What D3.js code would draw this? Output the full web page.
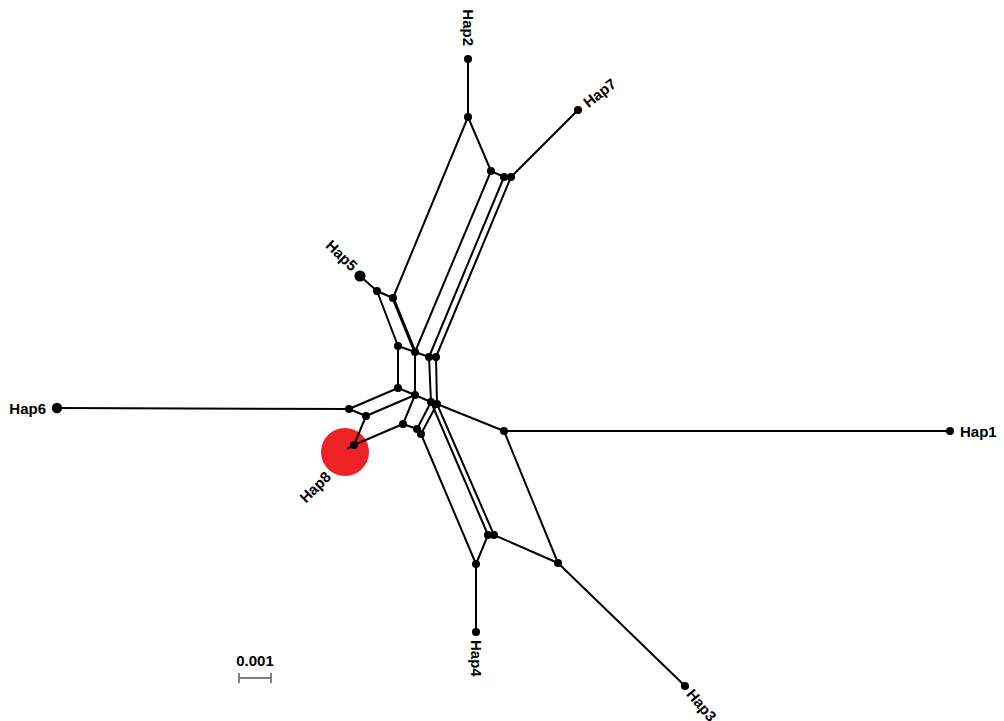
<!DOCTYPE html>
<html>
<head>
<meta charset="utf-8">
<script src="https://cdn.jsdelivr.net/npm/d3@7"></script>
<style>
  html, body { margin: 0; padding: 0; background: #fff; }
  svg { display: block; }
</style>
</head>
<body>
<svg id="chart" width="1004" height="721"></svg>
<script>
// Split-network layout: node ids and layout coordinates
const nodeIds = ["Hap2","N","O","P1","P2","Hap7","Hap5","A","B","C","D","E1","E2","F","G","H1","H2","I","J","K","L1","L2","Hap8","Hap6","M","Hap1","Q1","Q2","R","S","Hap4","Hap3"];
const nodeX =   [468, 468, 491, 504, 511, 578, 360, 377, 393, 398, 415, 429, 436, 398, 415, 431, 437, 349, 366, 403, 417, 421, 354, 57, 504, 950, 488, 494, 476, 558, 476, 685];
const nodeY =   [59, 117, 171, 177, 177, 110, 276, 291, 298, 346, 352, 357, 357, 388, 395, 402, 404, 409, 416, 424, 429, 434, 445, 408, 431, 431, 535, 535, 564, 563, 632, 686];
const nodeSize = [1,1,1,1,1,1,1.4,1,1,1,1,1,1,1,1,1,1,1,1,1,1,1,1,1.3,1,1,1,1,1,1,1,1];

// Edges (splits drawn as parallel edges)
const edgeFrom = ["Hap2","N","O","P1","P2","N","O","P1","P2","Hap5","A","A","B","C","D","E1","C","D","E1","E2","F","G","H1","F","G","I","Hap6","J","K","G","K","H1","H2","L1","L2","H1","H2","Q1","Q1","R","H2","M","M","Q2","S"];
const edgeTo   = ["N","O","P1","P2","Hap7","B","D","E1","E2","A","B","C","D","D","E1","E2","F","G","H1","H2","G","H1","H2","I","J","J","I","Hap8","Hap8","K","L1","L1","L2","L2","R","Q1","Q2","Q2","R","Hap4","M","Hap1","S","S","Hap3"];
const edgeWeight = edgeFrom.map((f, i) => (f === "B" && edgeTo[i] === "D") ? 3.2 : 2);

// Highlighted haplotype
const highlightId = ["Hap8"];
const highlightX = [345];
const highlightY = [452];
const highlightR = [24];

// Taxon labels
const labelText = ["Hap2","Hap7","Hap5","Hap6","Hap8","Hap1","Hap4","Hap3"];
const labelX = [468, 585, 355, 46, 328, 960, 476, 690];
const labelY = [46, 104, 268, 408, 474, 431, 640, 691];
const labelAngle = [90, -38, 44, 0, -45, 0, 90, 50];
const labelAnchor = ["end","start","end","end","end","start","start","start"];

// Scale bar
const scaleValue = 0.001;
const scaleLabel = ["0.001"];

const W = 1004, H = 721;
const svg = d3.select("#chart");

const x = d3.scaleLinear().domain([0, 1004]).range([0, W]);
const y = d3.scaleLinear().domain([0, 721]).range([0, H]);
// distance scale: 0.001 substitutions/site = 32 layout units
const dist = d3.scaleLinear().domain([0, scaleValue]).range([0, 32]);

const nodes = nodeIds.map((id, i) => ({ id, x: nodeX[i], y: nodeY[i], s: nodeSize[i] }));
const byId = new Map(nodes.map(n => [n.id, n]));
const edges = edgeFrom.map((f, i) => ({ s: byId.get(f), t: byId.get(edgeTo[i]), w: edgeWeight[i] }));

// highlight circle
svg.append("g").selectAll("circle")
  .data(highlightId.map((id, i) => ({ id, x: highlightX[i], y: highlightY[i], r: highlightR[i] })))
  .join("circle")
  .attr("cx", d => x(d.x)).attr("cy", d => y(d.y)).attr("r", d => d.r)
  .attr("fill", "#ec2227");

// short pendant to Hap8 tip
svg.append("line")
  .attr("x1", x(byId.get("Hap8").x)).attr("y1", y(byId.get("Hap8").y))
  .attr("x2", x(highlightX[0] + 2)).attr("y2", y(highlightY[0] - 3))
  .attr("stroke", "#000").attr("stroke-width", 2);

// edges
svg.append("g").selectAll("line")
  .data(edges)
  .join("line")
  .attr("x1", d => x(d.s.x)).attr("y1", d => y(d.s.y))
  .attr("x2", d => x(d.t.x)).attr("y2", d => y(d.t.y))
  .attr("stroke", "#000")
  .attr("stroke-width", d => d.w)
  .attr("stroke-linecap", "round");

// nodes
svg.append("g").selectAll("circle")
  .data(nodes)
  .join("circle")
  .attr("cx", d => x(d.x)).attr("cy", d => y(d.y))
  .attr("r", d => 4 * d.s)
  .attr("fill", "#000");

// labels
svg.append("g").selectAll("text")
  .data(labelText.map((t, i) => ({ t, x: labelX[i], y: labelY[i], a: labelAngle[i], anc: labelAnchor[i] })))
  .join("text")
  .attr("transform", d => `translate(${x(d.x)},${y(d.y)}) rotate(${d.a})`)
  .attr("text-anchor", d => d.anc)
  .attr("dominant-baseline", "central")
  .attr("font-family", "'Liberation Sans', Arial, sans-serif")
  .attr("font-weight", "bold")
  .attr("font-size", 15)
  .attr("fill", "#000")
  .text(d => d.t);

// scale bar
const sbX = 239, sbY = 678;
const sb = svg.append("g").attr("transform", `translate(${x(sbX)},${y(sbY)})`);
sb.append("line").attr("x1", 0).attr("x2", dist(scaleValue)).attr("y1", 0).attr("y2", 0)
  .attr("stroke", "#808080").attr("stroke-width", 2);
sb.selectAll("line.tick").data([0, scaleValue]).join("line").attr("class", "tick")
  .attr("x1", d => dist(d)).attr("x2", d => dist(d)).attr("y1", -5).attr("y2", 5)
  .attr("stroke", "#808080").attr("stroke-width", 2);
sb.append("text").attr("x", dist(scaleValue) / 2).attr("y", -12)
  .attr("text-anchor", "middle")
  .attr("font-family", "'Liberation Sans', Arial, sans-serif")
  .attr("font-weight", "bold").attr("font-size", 15)
  .text(scaleLabel[0]);
</script>
</body>
</html>
